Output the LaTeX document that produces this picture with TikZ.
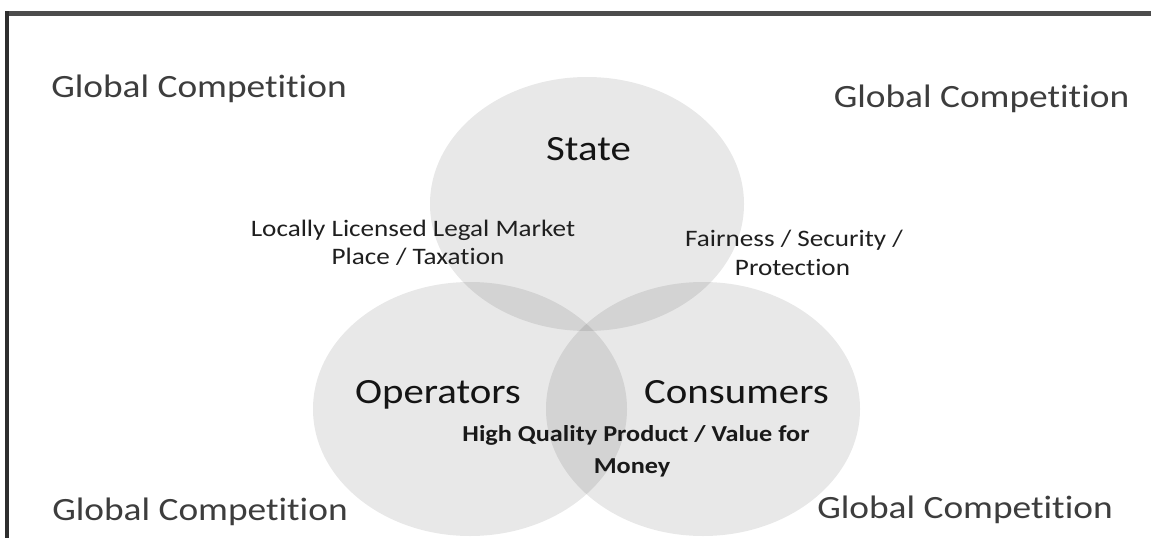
\documentclass[tikz,border=0pt]{standalone}
\usepackage{fontspec}
\setmainfont{Carlito}[FakeStretch=1.15, Ligatures=NoCommon]
\usetikzlibrary{shapes.geometric}
\begin{document}
\begin{tikzpicture}[x=1pt,y=-1pt,
  venn/.style={ellipse, fill=black, fill opacity=0.09, draw=none, inner sep=0pt,
               minimum width=314pt, minimum height=254pt},
  gc/.style={anchor=base, inner sep=0pt, text=black!76,
             font=\fontsize{32.5}{39}\selectfont},
  head/.style={anchor=base, inner sep=0pt, text=black!92,
             font=\fontsize{35.5}{42}\selectfont},
  lbl/.style={anchor=base, inner sep=0pt, text=black!88,
             font=\fontsize{23.6}{28}\selectfont},
  lblb/.style={anchor=base, inner sep=0pt, text=black!90,
             font=\fontsize{22.8}{28}\selectfont\bfseries},
  frame/.style={draw=black!70}]
\useasboundingbox (0,0) rectangle (1151,538);
\fill[white] (0,0) rectangle (1151,538);
% Venn ellipses
\node[venn] (state) at (587,204) {};
\node[venn] (operators) at (470,409) {};
\node[venn] (consumers) at (703,409) {};
% frame
\draw[frame, line width=5pt] (5,13) -- (1151,13);
\draw[frame, draw=black!82, line width=3.5pt] (7,11) -- (7,538);
% corner labels
\node[gc] (gcTL) at (199,97) {Global Competition};
\node[gc] (gcTR) at (981.5,107) {Global Competition};
\node[gc] (gcBL) at (200,520) {Global Competition};
\node[gc] (gcBR) at (965,518) {Global Competition};
% circle titles
\node[head] (tState) at (588.5,160) {State};
\node[head] (tOp) at (438,403) {Operators};
\node[head] (tCon) at (736.5,403) {Consumers};
% overlap labels
\node[lbl] (so1) at (413,236) {Locally Licensed Legal Market};
\node[lbl] (so2) at (418,264) {Place / Taxation};
\node[lbl] (sc1) at (794,246) {Fairness / Security /};
\node[lbl] (sc2) at (792.5,275) {Protection};
\node[lblb] (oc1) at (636,441) {High Quality Product / Value for};
\node[lblb] (oc2) at (632,473) {Money};
\end{tikzpicture}
\end{document}
